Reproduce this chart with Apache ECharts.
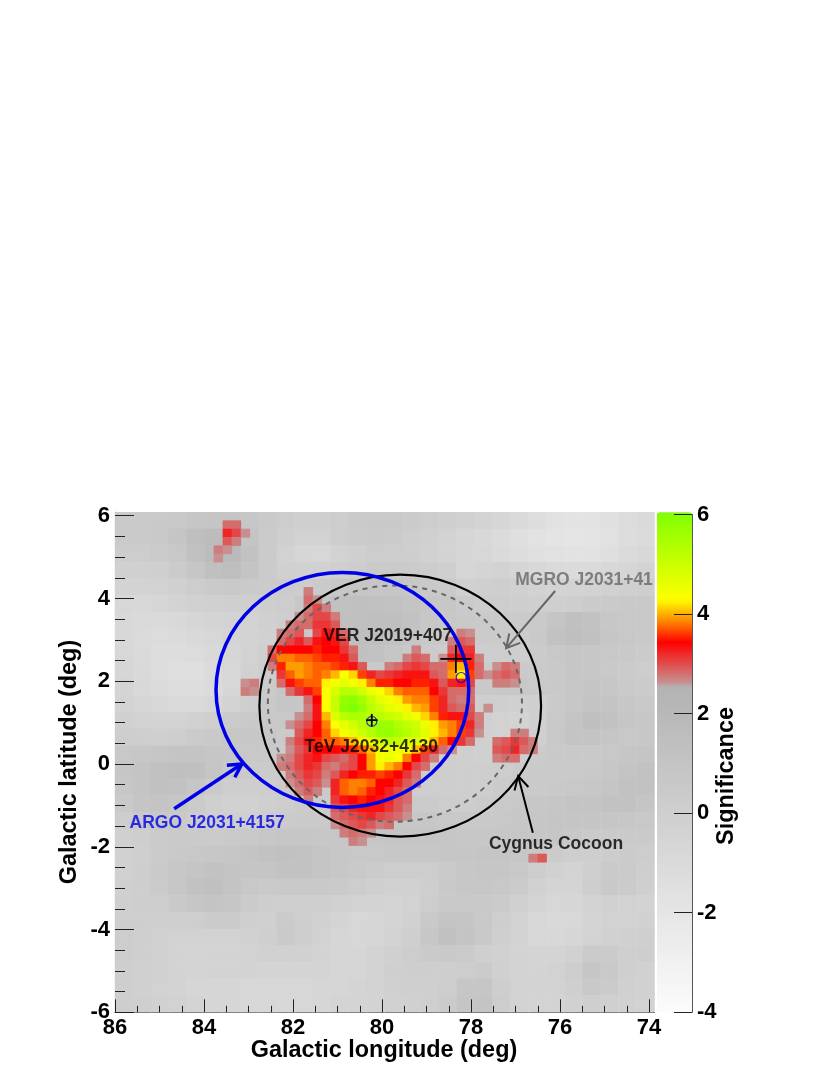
<!DOCTYPE html>
<html>
<head>
<meta charset="utf-8">
<title>Significance map</title>
<script src="https://cdn.jsdelivr.net/npm/echarts@6/dist/echarts.min.js"></script>
<style>
  html, body { margin: 0; padding: 0; background: #fff; }
  #chart { width: 830px; height: 1075px; }
</style>
</head>
<body>
<div id="chart"></div>
<script>
// background significance, coarse cells, row 0 is the top row, col 0 is lon 86
const bgRows = [
  [0.4,0.4,0.5,0.6,0.8,0.9,1.0,0.7,0.4,0.2,0.0,0.0,0.2,0.4,0.5,0.5,0.3,0.2,0.0,-0.2,-0.4,-0.6,-1.0,-1.3,-1.6,-1.8,-1.8,-1.5,-1.2,-1.0],
  [0.4,0.4,0.6,0.9,1.4,1.7,1.7,1.0,0.3,0.0,-0.3,-0.3,0.1,0.3,0.4,0.3,0.1,-0.1,-0.4,-0.6,-0.8,-1.1,-1.4,-1.7,-1.9,-2.0,-1.9,-1.6,-1.3,-1.1],
  [0.2,0.2,0.3,0.6,1.2,1.7,1.8,1.1,0.3,-0.3,-0.6,-0.7,-0.3,0.0,0.2,0.2,0.1,-0.2,-0.4,-0.6,-0.7,-1.0,-1.3,-1.5,-1.6,-1.7,-1.7,-1.4,-1.1,-0.8],
  [-0.1,-0.1,0.0,0.3,0.8,1.3,1.5,1.0,0.3,-0.1,-0.2,-0.2,0.0,0.2,0.4,0.4,0.3,0.2,0.0,-0.6,-0.5,-0.3,-0.6,-0.8,-1.0,-1.1,-1.0,-0.8,-0.6,-0.4],
  [-0.4,-0.4,-0.3,-0.1,0.2,0.4,0.5,0.4,0.3,0.3,0.2,0.4,0.7,0.8,0.8,0.8,0.7,0.5,0.4,-0.1,0.0,0.1,-0.1,-0.3,-0.4,-0.4,-0.3,-0.2,0.0,0.1],
  [-0.7,-0.8,-0.6,-0.4,-0.2,-0.1,0.0,0.0,0.1,0.2,0.6,0.9,1.2,1.3,1.2,1.1,1.0,0.8,0.7,0.4,0.2,0.2,0.1,0.0,0.0,0.1,0.3,0.4,0.5,0.5],
  [-0.8,-1.0,-1.0,-0.8,-0.6,-0.5,-0.4,-0.3,-0.1,0.1,0.6,1.0,1.3,1.3,1.4,1.4,1.1,0.7,0.6,0.5,0.4,0.4,0.3,0.4,0.9,1.3,1.1,0.7,0.6,0.6],
  [-0.8,-1.1,-1.2,-1.1,-0.9,-0.7,-0.5,-0.4,-0.2,0.1,0.5,1.0,1.2,1.4,1.4,1.1,0.9,0.6,0.5,0.4,0.3,0.3,0.3,0.5,1.1,1.4,1.2,0.8,0.6,0.5],
  [-0.7,-1.0,-1.3,-1.3,-1.2,-0.9,-0.6,-0.3,0.0,0.3,0.7,1.0,1.2,1.3,1.1,0.8,0.5,0.4,0.2,0.1,0.1,0.2,0.1,0.3,0.6,0.8,0.7,0.6,0.5,0.3],
  [-0.6,-0.9,-1.2,-1.4,-1.4,-1.1,-0.7,-0.2,0.2,0.6,0.9,1.1,1.2,0.9,0.5,0.2,0.1,0.2,0.1,0.1,0.3,0.5,0.4,0.4,0.5,0.8,0.7,0.5,0.3,0.2],
  [-0.5,-0.8,-1.1,-1.3,-1.3,-1.1,-0.7,-0.2,0.3,0.8,1.0,1.0,0.6,0.2,0.1,0.1,0.3,0.5,0.5,0.4,0.5,0.6,0.6,0.5,0.5,0.7,0.9,0.7,0.4,0.3],
  [-0.4,-0.6,-0.8,-1.0,-1.0,-0.7,-0.3,0.1,0.5,0.8,0.7,0.3,0.1,0.0,0.1,0.3,0.4,0.5,0.4,0.2,0.1,0.0,-0.1,0.0,0.4,0.7,1.0,1.0,0.7,0.6],
  [-0.1,-0.3,-0.4,-0.4,-0.2,0.0,0.3,0.5,0.6,0.6,0.4,0.2,0.2,0.4,0.4,0.5,0.5,0.4,0.3,0.1,-0.1,-0.3,-0.4,-0.1,0.5,1.0,1.4,1.1,0.8,0.7],
  [0.2,0.1,0.0,0.1,0.3,0.5,0.7,0.7,0.6,0.4,0.3,0.3,0.5,0.5,0.5,0.6,0.5,0.4,0.3,0.1,-0.1,-0.3,-0.4,0.0,0.6,1.0,1.0,0.8,0.6,0.7],
  [0.6,0.7,0.8,1.0,1.0,0.8,0.7,0.6,0.5,0.3,0.3,0.5,0.8,0.7,0.5,0.4,0.4,0.2,0.1,0.0,-0.1,-0.1,0.1,0.3,0.5,0.5,0.5,0.6,0.8,0.9],
  [0.8,1.0,1.2,1.4,1.3,0.9,0.5,0.4,0.3,0.3,0.5,0.6,0.7,0.6,0.5,0.5,0.3,0.2,0.2,0.1,0.1,0.2,0.3,0.4,0.4,0.4,0.5,0.7,1.0,1.1],
  [0.7,1.0,1.2,1.1,0.8,0.4,0.1,0.1,0.2,0.3,0.4,0.4,0.4,0.6,0.6,0.4,0.2,0.1,0.1,0.1,0.1,0.3,0.4,0.4,0.5,0.6,0.7,0.9,1.1,1.1],
  [0.5,0.9,1.0,0.7,0.3,0.0,-0.2,-0.2,0.0,0.2,0.3,0.3,0.6,0.8,0.7,0.5,0.4,0.3,0.2,0.2,0.3,0.5,0.6,0.7,0.8,1.0,1.0,1.1,1.1,0.9],
  [0.2,0.5,0.6,0.5,0.2,0.0,0.0,0.0,0.2,0.3,0.4,0.4,0.6,0.9,0.8,0.7,0.7,0.7,0.6,0.5,0.5,0.6,0.7,0.8,0.9,0.9,0.9,0.8,0.7,0.6],
  [-0.1,0.1,0.3,0.4,0.4,0.3,0.4,0.5,0.7,0.8,0.8,0.7,0.7,0.8,0.8,0.9,0.9,0.9,0.8,0.7,0.7,0.7,0.8,0.8,0.8,0.6,0.4,0.4,0.4,0.4],
  [-0.2,0.0,0.3,0.5,0.6,0.7,0.8,1.0,1.1,1.2,1.1,0.9,0.7,0.6,0.6,0.7,0.7,0.7,0.8,0.8,0.9,0.9,0.8,0.6,0.3,0.1,0.1,0.2,0.3,0.2],
  [-0.2,0.1,0.4,0.7,0.9,1.1,1.0,0.9,0.9,1.1,1.1,0.9,0.7,0.5,0.3,0.2,0.2,0.2,0.4,0.7,0.8,0.8,0.6,0.2,-0.2,-0.4,0.0,0.4,0.3,0.1],
  [-0.1,0.1,0.3,0.7,1.1,1.3,1.0,0.6,0.4,0.5,0.5,0.5,0.4,0.2,0.0,-0.2,-0.2,0.1,0.5,0.7,0.7,0.6,0.3,-0.2,-0.5,-0.5,0.1,0.5,0.3,0.0],
  [0.0,0.1,0.2,0.5,0.8,1.0,0.8,0.3,0.1,0.0,0.0,0.0,-0.2,-0.3,-0.4,-0.5,-0.3,0.2,0.5,0.6,0.5,0.3,-0.1,-0.5,-0.7,-0.6,-0.4,-0.2,-0.3,-0.4],
  [0.1,0.1,0.0,0.0,0.1,0.3,0.3,0.0,-0.1,0.3,0.1,-0.2,-0.5,-0.7,-0.6,-0.5,-0.2,0.5,1.0,0.9,0.5,0.1,-0.3,-0.7,-0.9,-0.8,-0.5,-0.3,-0.3,-0.2],
  [0.2,0.0,-0.2,-0.3,-0.3,-0.3,-0.3,-0.2,0.0,0.4,0.1,-0.3,-0.6,-0.7,-0.6,-0.3,0.0,0.7,1.2,1.0,0.5,0.0,-0.4,-0.7,-0.8,-0.6,-0.4,-0.2,-0.1,0.0],
  [0.2,0.0,-0.2,-0.4,-0.5,-0.4,-0.4,-0.3,-0.2,-0.2,-0.2,-0.4,-0.6,-0.6,-0.4,-0.1,0.2,0.4,0.5,0.3,0.0,-0.2,-0.4,-0.5,-0.5,-0.2,0.3,0.3,0.0,0.1],
  [0.1,-0.1,-0.2,-0.4,-0.5,-0.4,-0.4,-0.4,-0.5,-0.5,-0.5,-0.5,-0.6,-0.6,-0.3,0.0,0.1,0.1,0.1,0.2,0.3,-0.1,-0.3,-0.4,-0.3,0.2,0.8,0.5,0.0,-0.2],
  [0.1,-0.1,-0.3,-0.4,-0.6,-0.6,-0.6,-0.7,-0.7,-0.7,-0.7,-0.6,-0.6,-0.5,-0.3,-0.1,0.0,0.0,0.2,0.8,0.8,0.1,-0.3,-0.3,-0.3,0.0,0.5,0.3,-0.1,-0.2],
  [0.1,0.0,-0.2,-0.3,-0.5,-0.6,-0.6,-0.7,-0.7,-0.8,-0.7,-0.6,-0.5,-0.5,-0.4,-0.2,-0.1,0.0,0.3,0.9,1.0,0.2,-0.3,-0.4,-0.4,-0.2,0.0,-0.1,-0.2,-0.3]
];

// hot part of the map on fine cells, first row is fine row 9, first value is fine col 16, 0 means no cell
const hotFirstRow = 9;
const hotFirstCol = 16;
const hotRows = [
  [0,0,0,0,0,2.7,0,0,0,0,0,0,0,0,0,0,0,0,0,0,0,0,0,0,0,0,0,0,0,0,0],
  [0,0,0,0,0,2.8,2.6,0,0,0,0,0,0,0,0,0,0,0,0,0,0,0,0,0,0,0,0,0,0,0,0],
  [0,0,0,0,0,2.7,3.0,2.7,0,0,0,0,0,0,0,0,0,0,0,0,0,0,0,0,0,0,0,0,0,0,0],
  [0,0,0,0,2.6,2.8,3.0,3.0,2.7,0,0,0,0,0,0,0,0,0,0,0,0,0,0,0,0,0,0,0,0,0,0],
  [0,0,0,2.7,2.8,2.8,3.1,3.1,2.9,0,0,0,0,0,0,0,0,0,0,0,0,0,0,0,0,0,0,0,0,0,0],
  [0,0,2.7,2.8,2.9,0,3.0,3.3,3.2,2.8,0,0,0,0,0,0,0,0,0,0,0,0,2.7,2.6,0,0,0,0,0,0,0],
  [0,0,2.8,3.0,3.2,2.9,3.3,3.4,3.3,3.0,0,0,0,0,0,0,0,0,0,0,0,2.7,2.9,2.8,0,0,0,0,0,0,0],
  [0,2.8,3.4,3.4,3.4,3.4,3.5,3.4,3.4,3.1,2.8,0,0,0,0,0,0,2.7,0,0,0,2.9,3.1,3.1,0,0,0,0,0,0,0],
  [0,3.0,3.8,3.8,3.7,3.7,3.6,3.5,3.5,3.3,2.9,0,0,0,0,0,2.7,2.9,2.8,0,2.6,3.2,3.4,3.2,2.7,0,0,0,0,0,0],
  [0,2.7,3.5,3.9,3.9,3.8,3.7,3.7,3.6,3.5,3.3,2.9,0,0,2.7,2.8,3.0,3.1,3.0,2.8,2.8,3.8,4.0,3.5,2.8,0,2.6,2.8,2.7,0,0],
  [0,0,3.1,3.7,3.9,3.8,3.7,3.8,4.0,4.3,4.1,3.6,3.2,3.0,3.1,3.2,3.3,3.3,3.3,2.9,2.8,3.9,4.2,3.6,2.8,2.6,2.8,2.9,2.8,0,0],
  [0,0,2.8,3.3,3.6,3.7,3.7,4.2,4.4,4.6,4.4,4.2,3.8,3.5,3.5,3.4,3.4,3.5,3.5,3.3,2.9,3.2,3.3,3.0,0,0,2.7,2.7,2.6,0,0],
  [0,0,0,2.8,3.1,3.3,3.6,4.3,4.8,5.2,5.2,4.9,4.5,4.3,4.1,3.8,3.7,3.7,3.7,3.4,3.1,2.8,2.8,2.8,0,0,0,0,0,0,0],
  [0,0,0,0,0,2.8,3.4,4.3,5.0,5.7,5.8,5.5,5.0,4.6,4.4,4.2,3.9,3.8,3.8,3.6,3.2,2.8,2.7,2.8,0,0,0,0,0,0,0],
  [0,0,0,0,0,2.7,3.3,4.3,5.0,5.8,6.0,5.7,5.2,4.9,4.6,4.5,4.2,4.0,3.9,3.6,3.2,2.9,2.8,2.9,0,2.6,0,0,0,0,0],
  [0,0,0,0,2.6,2.8,3.3,4.0,4.7,5.2,5.4,5.4,5.2,5.2,5.0,4.9,4.6,4.4,4.1,3.8,3.5,3.3,3.3,3.0,2.7,0,0,0,0,0,0],
  [0,0,0,2.6,2.8,3.0,3.4,3.8,4.3,4.6,4.9,5.2,5.4,5.6,5.6,5.3,5.1,4.9,4.5,4.2,3.9,3.8,3.6,3.2,2.7,0,0,0,0,0,0],
  [0,0,0,0,2.9,3.2,3.4,3.7,4.1,4.4,4.6,4.9,5.3,5.6,5.7,5.5,5.3,5.0,4.7,4.2,4.0,3.8,3.6,3.1,2.6,0,0,0,2.7,2.7,0],
  [0,0,0,2.7,3.0,3.3,3.5,3.7,3.7,3.8,4.0,4.2,4.6,4.9,5.2,5.0,4.8,4.7,4.4,4.0,3.7,3.4,3.1,2.8,0,0,2.8,2.9,3.1,2.9,2.7],
  [0,0,0,2.6,2.9,3.1,3.4,3.4,3.4,3.3,3.5,3.7,4.0,4.4,4.5,4.5,4.4,4.0,3.6,3.2,2.8,2.6,0,0,0,0,2.9,3.0,3.2,2.8,2.7],
  [0,0,2.6,2.7,3.0,3.2,3.3,3.0,2.9,2.8,3.0,3.4,3.9,4.4,4.5,4.3,3.8,3.4,3.0,2.7,0,0,0,0,0,0,2.7,2.8,2.8,0,0],
  [0,0,2.7,2.8,3.0,3.2,3.1,2.8,2.7,2.9,3.0,3.4,3.9,4.2,4.0,3.8,3.4,3.0,2.8,0,0,0,0,0,0,0,0,0,0,0,0],
  [0,0,0,2.7,2.9,3.1,3.0,2.7,2.9,3.2,3.4,3.5,3.5,3.6,3.5,3.4,3.1,2.8,0,0,0,0,0,0,0,0,0,0,0,0,0],
  [0,0,0,2.6,2.8,3.0,2.9,2.6,3.2,3.7,3.8,3.8,3.7,3.4,3.4,3.2,2.9,2.7,0,0,0,0,0,0,0,0,0,0,0,0,0],
  [0,0,0,0,2.7,2.9,2.7,0,3.2,3.7,3.8,3.7,3.5,3.4,3.2,3.0,2.8,0,0,0,0,0,0,0,0,0,0,0,0,0,0],
  [0,0,0,0,0,2.7,0,0,3.1,3.3,3.4,3.5,3.4,3.3,3.2,2.9,2.8,0,0,0,0,0,0,0,0,0,0,0,0,0,0],
  [0,0,0,0,0,0,0,0,2.9,3.0,3.2,3.3,3.3,3.3,3.1,2.9,2.7,0,0,0,0,0,0,0,0,0,0,0,0,0,0],
  [0,0,0,0,0,0,0,0,2.8,2.9,3.0,3.1,3.2,3.0,2.9,2.8,2.6,0,0,0,0,0,0,0,0,0,0,0,0,0,0],
  [0,0,0,0,0,0,0,0,2.6,2.8,2.9,3.0,2.9,2.7,2.8,0,0,0,0,0,0,0,0,0,0,0,0,0,0,0,0],
  [0,0,0,0,0,0,0,0,0,2.7,2.8,2.7,2.6,0,0,0,0,0,0,0,0,0,0,0,0,0,0,0,0,0,0],
  [0,0,0,0,0,0,0,0,0,0,2.7,2.6,0,0,0,0,0,0,0,0,0,0,0,0,0,0,0,0,0,0,0]
];

// isolated spots outside the hot block: fine col, fine row, significance
const hotSpots = [
  [12,1,2.8],[13,1,2.8],[12,2,3.2],[13,2,3.0],[14,2,2.6],[12,3,2.9],[13,3,2.7],
  [11,4,2.7],[12,4,2.6],[11,5,2.6],
  [14,20,2.6],[15,20,2.7],[14,21,2.7],[15,21,2.6],
  [46,41,2.7],[47,41,2.9]
];

// lon, lat, radius in deg
const argoCircle = [[80.89, 1.79, 2.84]];
const cocoonCircle = [[79.59, 1.41, 3.165]];
const mgroCircle = [[79.71, 1.46, 2.855]];
// source positions: lon, lat
const sourceMarks = [[80.23, 1.03], [78.22, 2.09]];
// lon, lat, half width, half height
const crosses = [[78.34, 2.54, 0.35, 0.34], [80.23, 1.06, 0.13, 0.15]];
// tail lon, tail lat, tip lon, tip lat
const argoArrow = [[84.67, -1.08, 83.15, 0.0]];
const mgroArrow = [[76.11, 4.18, 77.21, 2.80]];
const cocoonArrow = [[76.61, -1.66, 76.94, -0.29]];
// name, lon, lat, colour
const sourceLabels = [
  ["VER J2019+407", 79.87, 3.09, "#000"],
  ["TeV J2032+4130", 80.24, 0.41, "#000"],
  ["MGRO J2031+41", 75.46, 4.45, "#666"],
  ["ARGO J2031+4157", 83.93, -1.42, "#0000e6"],
  ["Cygnus Cocoon", 76.09, -1.93, "#000"]
];

const fontName = '"Liberation Sans", Arial, sans-serif';

// colour scale of the map, value -> colour
const paletteStops = [
  [-4, [252, 252, 252]],
  [2.55, [178, 178, 178]],
  [2.56, [196, 150, 150]],
  [3.4, [255, 0, 0]],
  [3.8, [255, 128, 0]],
  [4.25, [255, 255, 0]],
  [6, [127, 255, 0]]
];
function paletteAt(v) {
  for (let i = 1; i < paletteStops.length; i++) {
    if (v <= paletteStops[i][0]) {
      const a = paletteStops[i - 1], b = paletteStops[i];
      const t = (v - a[0]) / (b[0] - a[0]);
      const c = a[1].map((x, k) => Math.round(x + (b[1][k] - x) * t));
      return "rgb(" + c.join(",") + ")";
    }
  }
  return "rgb(127,255,0)";
}
const palette = [];
for (let i = 0; i <= 400; i++) palette.push(paletteAt(-4 + i * 0.025));

// heatmap cells
const bgCells = [];
bgRows.forEach((row, j) => row.forEach((v, i) => bgCells.push([i, j, v])));
const hotCells = hotSpots.slice();
hotRows.forEach((row, j) => row.forEach((v, i) => {
  if (v > 0) hotCells.push([i + hotFirstCol, j + hotFirstRow, v]);
}));
const indexList = n => Array.from({ length: n }, (_, i) => i);

function hiddenCategory(n, gridIndex, extra) {
  return Object.assign({
    type: "category", gridIndex: gridIndex, data: indexList(n),
    axisTick: { show: false }, axisLabel: { show: false },
    axisLine: { show: false }, splitLine: { show: false }, splitArea: { show: false }
  }, extra);
}

function circleSeries(data, color, width, dash) {
  return {
    type: "custom", xAxisIndex: 2, yAxisIndex: 2, z: 10, silent: true, clip: false,
    data: data,
    encode: { x: 0, y: 1 },
    renderItem: function (params, api) {
      const c = api.coord([api.value(0), api.value(1)]);
      const e = api.coord([api.value(0) + api.value(2), api.value(1) + api.value(2)]);
      return {
        type: "ellipse",
        shape: { cx: c[0], cy: c[1], rx: Math.abs(e[0] - c[0]), ry: Math.abs(e[1] - c[1]) },
        style: { fill: null, stroke: color, lineWidth: width, lineDash: dash || null }
      };
    }
  };
}

function arrowSeries(data, color, width) {
  return {
    type: "custom", xAxisIndex: 2, yAxisIndex: 2, z: 11, silent: true, clip: false,
    data: data,
    encode: { x: [0, 2], y: [1, 3] },
    renderItem: function (params, api) {
      const a = api.coord([api.value(0), api.value(1)]);
      const b = api.coord([api.value(2), api.value(3)]);
      const ang = Math.atan2(b[1] - a[1], b[0] - a[0]);
      const barb = d => [b[0] - 15 * Math.cos(ang + d), b[1] - 15 * Math.sin(ang + d)];
      const style = { fill: null, stroke: color, lineWidth: width };
      return {
        type: "group",
        children: [
          { type: "polyline", shape: { points: [a, b] }, style: style },
          { type: "polyline", shape: { points: [barb(0.5), b, barb(-0.5)] }, style: style }
        ]
      };
    }
  };
}

const myChart = echarts.init(document.getElementById("chart"), null, { renderer: "canvas" });

const tickLabel = { color: "#000", fontFamily: fontName, fontWeight: "bold", fontSize: 22 };

const option = {
  animation: false,
  backgroundColor: "#fff",
  grid: [
    { left: 115, top: 512.3, width: 539.5, height: 500 },
    { left: 115, top: 512.3, width: 539.5, height: 500 },
    { left: 115, top: 515.7, width: 534, height: 496.6 },
    { left: 657, top: 514.5, width: 35, height: 497.8 }
  ],
  xAxis: [
    hiddenCategory(30, 0, { axisLine: { show: true, onZero: false, lineStyle: { color: "#222", width: 1 } } }),
    hiddenCategory(60, 1),
    {
      type: "value", gridIndex: 2, min: 74, max: 86, interval: 2, inverse: true,
      axisLine: { show: false, onZero: false }, splitLine: { show: false },
      axisTick: { show: true, inside: true, length: 13, lineStyle: { color: "#222", width: 1 } },
      minorTick: { show: true, splitNumber: 4, length: 6.5, lineStyle: { color: "#222", width: 1 } },
      axisLabel: Object.assign({ margin: 5 }, tickLabel),
      z: 5
    },
    { type: "value", gridIndex: 3, min: 0, max: 1, show: false }
  ],
  yAxis: [
    hiddenCategory(30, 0, { inverse: true, axisLine: { show: true, onZero: false, lineStyle: { color: "#222", width: 1 } } }),
    hiddenCategory(60, 1, { inverse: true }),
    {
      type: "value", gridIndex: 2, min: -6, max: 6, interval: 2,
      axisLine: { show: false, onZero: false }, splitLine: { show: false },
      axisTick: { show: true, inside: true, length: 19, lineStyle: { color: "#222", width: 1 } },
      minorTick: { show: true, splitNumber: 4, length: 10, lineStyle: { color: "#222", width: 1 } },
      axisLabel: Object.assign({ margin: 5 }, tickLabel),
      z: 5
    },
    {
      type: "value", gridIndex: 3, min: -4, max: 6, interval: 2, position: "right",
      axisLine: { show: true, onZero: false, lineStyle: { color: "#555", width: 1 } },
      splitLine: { show: false },
      axisTick: { show: true, inside: true, length: 18, lineStyle: { color: "#222", width: 1 } },
      axisLabel: Object.assign({ margin: 5 }, tickLabel),
      z: 5
    }
  ],
  visualMap: {
    type: "continuous", min: -4, max: 6, seriesIndex: [0, 1], calculable: false, hoverLink: false,
    left: 657, top: 512.3, padding: 0, itemWidth: 35, itemHeight: 500, text: null, showLabel: false,
    inRange: { color: palette }, formatter: () => ""
  },
  graphic: [
    { type: "text", x: 384, y: 1051, style: { text: "Galactic longitude (deg)", font: "bold 23.4px " + fontName, fill: "#000", align: "center", verticalAlign: "middle" } },
    { type: "text", x: 70, y: 762, rotation: Math.PI / 2, style: { text: "Galactic latitude (deg)", font: "bold 23.4px " + fontName, fill: "#000", align: "center", verticalAlign: "middle" } },
    { type: "text", x: 727, y: 776, rotation: Math.PI / 2, style: { text: "Significance", font: "bold 23.4px " + fontName, fill: "#000", align: "center", verticalAlign: "middle" } }
  ],
  series: [
    { type: "heatmap", xAxisIndex: 0, yAxisIndex: 0, data: bgCells, silent: true, progressive: 0, z: 1 },
    { type: "heatmap", xAxisIndex: 1, yAxisIndex: 1, data: hotCells, silent: true, progressive: 0, z: 2 },
    circleSeries(mgroCircle, "#666", 2, [5, 5]),
    circleSeries(cocoonCircle, "#000", 2.2),
    circleSeries(argoCircle, "#0000e6", 3.5),
    {
      type: "scatter", xAxisIndex: 2, yAxisIndex: 2, z: 12, silent: true,
      data: sourceMarks, symbol: "circle", symbolSize: 10,
      itemStyle: { color: "transparent", borderColor: "#0000e6", borderWidth: 1.2 }
    },
    {
      type: "custom", xAxisIndex: 2, yAxisIndex: 2, z: 13, silent: true, clip: false,
      data: crosses, encode: { x: 0, y: 1 },
      renderItem: function (params, api) {
        const lon = api.value(0), lat = api.value(1), w = api.value(2), h = api.value(3);
        const style = { fill: null, stroke: "#000", lineWidth: 1.8 };
        return {
          type: "group",
          children: [
            { type: "polyline", shape: { points: [api.coord([lon - w, lat]), api.coord([lon + w, lat])] }, style: style },
            { type: "polyline", shape: { points: [api.coord([lon, lat - h]), api.coord([lon, lat + h])] }, style: style }
          ]
        };
      }
    },
    arrowSeries(argoArrow, "#0000e6", 3.5),
    arrowSeries(mgroArrow, "#666", 2),
    arrowSeries(cocoonArrow, "#000", 2),
    {
      type: "scatter", xAxisIndex: 2, yAxisIndex: 2, z: 14, silent: true, symbolSize: 0,
      data: sourceLabels.map(d => ({
        value: [d[1], d[2]], name: d[0],
        label: { show: true, position: "inside", formatter: d[0], color: d[3], fontFamily: fontName, fontWeight: "bold", fontSize: 17.5 }
      }))
    }
  ]
};
myChart.setOption(option);
</script>
</body>
</html>
